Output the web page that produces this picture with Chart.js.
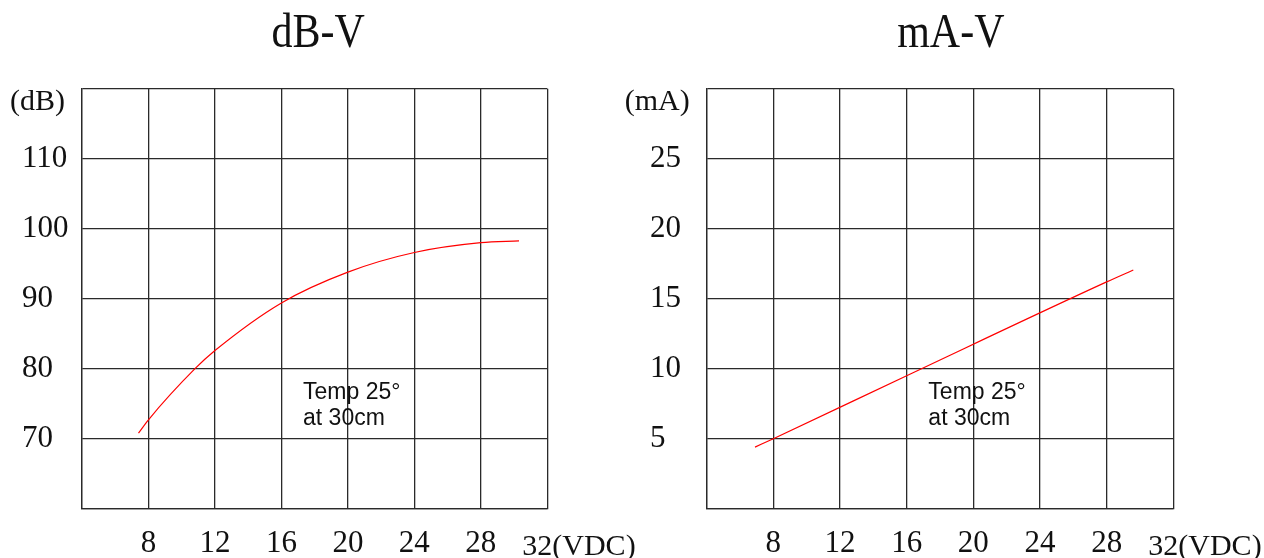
<!DOCTYPE html>
<html>
<head>
<meta charset="utf-8">
<script src="https://cdn.jsdelivr.net/npm/chart.js@4.4.0/dist/chart.umd.min.js"></script>
<style>
body { margin: 0; background: #fff; }
canvas { position: absolute; top: 0; }
</style>
</head>
<body>
<canvas id="dbChart" width="640" height="558" style="left:0px"></canvas>
<canvas id="maChart" width="664" height="558" style="left:600px"></canvas>
<script>
// volts on x
const dbVolts = [7.4, 8, 10.8, 12, 16, 20, 24, 28, 30.3];
const dbValues = [70.8, 72.7, 80.0, 82.6, 89.4, 93.8, 96.6, 98.0, 98.25];
const maVolts = [6.9, 8, 16, 28, 29.6];
const maValues = [4.4, 5.0, 9.5, 16.2, 17.05];
const noteLines = ['Temp 25°', 'at 30cm'];

// titles, units and the note text drawn on top
const extras = {
  id: 'extras',
  afterDraw(chart, args, o) {
    const ctx = chart.ctx;
    const ca = chart.chartArea;
    const x = chart.scales.x, y = chart.scales.y;
    ctx.save();
    ctx.fillStyle = '#111';
    ctx.textBaseline = 'alphabetic';
    // title is a bit taller than the plain serif, stretch it
    ctx.save();
    ctx.translate((ca.left + ca.right) / 2 + o.titleShift, 47);
    ctx.scale(1, 1.18);
    ctx.font = '42px "Liberation Serif"';
    ctx.textAlign = 'center';
    ctx.fillText(o.title, 0, 0);
    ctx.restore();
    ctx.font = '30px "Liberation Serif"';
    ctx.textAlign = 'right';
    ctx.fillText(o.unit, ca.left - 17, y.getPixelForValue(y.max) + 21);
    ctx.textAlign = 'left';
    ctx.fillText(x.max + '(VDC)', x.getPixelForValue(x.max) - 25, ca.bottom + 46);
    ctx.font = '23px "Liberation Sans"';
    const nx = x.getPixelForValue(o.noteAt[0]);
    const ny = y.getPixelForValue(o.noteAt[1]);
    ctx.fillText(noteLines[0], nx, ny);
    ctx.fillText(noteLines[1], nx, ny + 26);
    ctx.restore();
  }
};

function makeChart(id, volts, values, yMin, yMax, yStep, yWidth, pad, opts) {
  const ctx = document.getElementById(id).getContext('2d');
  return new Chart(ctx, {
    type: 'line',
    data: {
      datasets: [{
        data: volts.map((v, i) => ({x: v, y: values[i]})),
        borderColor: '#ff0000',
        borderWidth: 1.2,
        pointRadius: 0,
        cubicInterpolationMode: 'monotone'
      }]
    },
    options: {
      responsive: false,
      animation: false,
      layout: { padding: pad },
      plugins: {
        legend: { display: false },
        tooltip: { enabled: false },
        extras: opts
      },
      scales: {
        x: {
          type: 'linear',
          min: 4, max: 32,
          grid: { color: '#2a2a2a', lineWidth: 1.3, drawTicks: false },
          border: { color: '#2a2a2a', width: 1.3 },
          ticks: {
            stepSize: 4, autoSkip: false, maxRotation: 0, padding: 17,
            color: '#111',
            font: { family: '"Liberation Serif"', size: 31 },
            callback: v => (v === 4 || v === 32) ? '' : v
          },
          afterFit: s => { s.height = 49.3; }
        },
        y: {
          min: yMin, max: yMax,
          grid: { color: '#2a2a2a', lineWidth: 1.3, drawTicks: false },
          border: { color: '#2a2a2a', width: 1.3 },
          ticks: {
            stepSize: yStep, crossAlign: 'far',
            color: '#111',
            font: { family: '"Liberation Serif"', size: 31 },
            callback: v => (v === yMin || v === yMax) ? '' : v
          },
          afterFit: s => { s.width = yWidth; }
        }
      }
    },
    plugins: [extras]
  });
}

makeChart('dbChart', dbVolts, dbValues, 60, 120, 10, 60,
  { left: 22, top: 88.7, right: 92.7, bottom: 0 },
  { title: 'dB-V', unit: '(dB)', titleShift: 3.6, noteAt: [17.3, 75.7] });

makeChart('maChart', maVolts, maValues, 0, 30, 5, 56.7,
  { left: 50, top: 88.7, right: 90.7, bottom: 0 },
  { title: 'mA-V', unit: '(mA)', titleShift: 10.8, noteAt: [17.3, 7.84] });
</script>
</body>
</html>
